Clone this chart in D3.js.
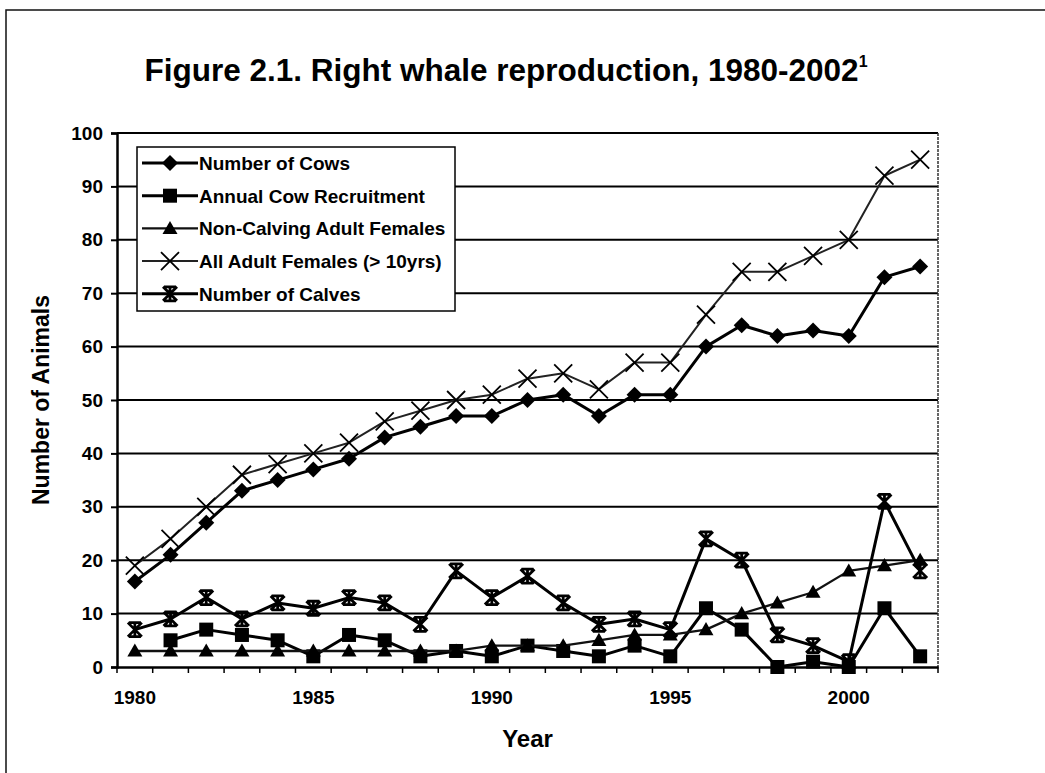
<!DOCTYPE html>
<html>
<head>
<meta charset="utf-8">
<script src="https://cdn.jsdelivr.net/npm/d3@7/dist/d3.min.js"></script>
<style>
  html, body { margin: 0; padding: 0; background: #fff; }
  svg { display: block; }
  text { font-family: "Liberation Sans", Arial, sans-serif; fill: #000; }
</style>
</head>
<body>
<svg id="chart" width="1045" height="773"></svg>
<script>
// ---- Data ----
const years = [1980,1981,1982,1983,1984,1985,1986,1987,1988,1989,1990,1991,1992,1993,1994,1995,1996,1997,1998,1999,2000,2001,2002];
const numberOfCows      = [16,21,27,33,35,37,39,43,45,47,47,50,51,47,51,51,60,64,62,63,62,73,75];
const annualRecruitment = [null,5,7,6,5,2,6,5,2,3,2,4,3,2,4,2,11,7,0,1,0,11,2];
const nonCalvingFemales = [3,3,3,3,3,3,3,3,3,3,4,4,4,5,6,6,7,10,12,14,18,19,20];
const allAdultFemales   = [19,24,30,36,38,40,42,46,48,50,51,54,55,52,57,57,66,74,74,77,80,92,95];
const numberOfCalves    = [7,9,13,9,12,11,13,12,8,18,13,17,12,8,9,7,24,20,6,4,1,31,18];
const yTicks = [0,10,20,30,40,50,60,70,80,90,100];
const xTickLabels = [1980,1985,1990,1995,2000];
const seriesNames = ["Number of Cows","Annual Cow Recruitment","Non-Calving Adult Females","All Adult Females (> 10yrs)","Number of Calves"];

const series = [
  {name: seriesNames[0], values: numberOfCows,      marker: "diamond",  width: 3,   color: "#000"},
  {name: seriesNames[1], values: annualRecruitment, marker: "square",   width: 3,   color: "#000"},
  {name: seriesNames[2], values: nonCalvingFemales, marker: "triangle", width: 2.3, color: "#111"},
  {name: seriesNames[3], values: allAdultFemales,   marker: "x",        width: 2,   color: "#222"},
  {name: seriesNames[4], values: numberOfCalves,    marker: "star",     width: 3,   color: "#000"}
];

// ---- Layout ----
const svg = d3.select("#chart");
const plot = {left: 117, right: 938, top: 133, bottom: 667};

const x = d3.scaleBand().domain(years).range([plot.left, plot.right]).paddingInner(0).paddingOuter(0);
const y = d3.scaleLinear().domain([0, 100]).range([plot.bottom, plot.top]);
const cx = d => x(d) + x.bandwidth() / 2;

// outer chart border (extends past the right/bottom edges)
svg.append("rect").attr("x", 6).attr("y", 10).attr("width", 1100).attr("height", 800)
  .attr("fill", "none").attr("stroke", "#111").attr("stroke-width", 1.5);

// title
const title = svg.append("text").attr("x", 506).attr("y", 81).attr("text-anchor", "middle")
  .attr("font-size", 31.5).attr("font-weight", "bold");
title.append("tspan").text("Figure 2.1. Right whale reproduction, 1980-2002");
title.append("tspan").attr("font-size", 16).attr("dy", -14).text("1");

// gridlines
svg.append("g").selectAll("line").data(yTicks.filter(t => t > 0)).join("line")
  .attr("x1", plot.left).attr("x2", plot.right)
  .attr("y1", d => y(d)).attr("y2", d => y(d))
  .attr("stroke", "#000").attr("stroke-width", 2);

// plot right border
svg.append("line").attr("x1", plot.right).attr("x2", plot.right)
  .attr("y1", plot.top).attr("y2", plot.bottom)
  .attr("stroke", "#333").attr("stroke-width", 1.5).attr("stroke-dasharray", "3,1");

// y axis
const yAxis = d3.axisLeft(y).tickValues(yTicks).tickSize(6).tickPadding(8);
const gy = svg.append("g").attr("transform", `translate(${plot.left},0)`).call(yAxis);
gy.select(".domain").attr("stroke", "#000").attr("stroke-width", 2.5);
gy.selectAll(".tick line").attr("stroke", "#000").attr("stroke-width", 2);
gy.selectAll(".tick text").attr("font-size", 19).attr("font-weight", "bold")
  .attr("font-family", "Liberation Sans, Arial, sans-serif").attr("fill", "#000");

// x axis: labels at category centres, ticks between categories
const xAxis = d3.axisBottom(x).tickValues(xTickLabels).tickSize(0).tickPadding(24);
const gx = svg.append("g").attr("transform", `translate(0,${plot.bottom})`).call(xAxis);
gx.select(".domain").attr("stroke", "#000").attr("stroke-width", 2.5);
gx.selectAll(".tick text").attr("font-size", 19).attr("font-weight", "bold")
  .attr("font-family", "Liberation Sans, Arial, sans-serif").attr("fill", "#000");
const boundaries = years.map(d => x(d)).concat([x(years[years.length - 1]) + x.bandwidth()]);
gx.append("g").selectAll("line").data(boundaries).join("line")
  .attr("x1", d => d).attr("x2", d => d).attr("y1", 0).attr("y2", 6)
  .attr("stroke", "#000").attr("stroke-width", 1.5);

// axis titles
svg.append("text").attr("x", cx(1991)).attr("y", 747).attr("text-anchor", "middle")
  .attr("font-size", 24).attr("font-weight", "bold").text("Year");
svg.append("text").attr("transform", `translate(49,${(plot.top + plot.bottom) / 2}) rotate(-90)`)
  .attr("text-anchor", "middle").attr("font-size", 23).attr("font-weight", "bold").text("Number of Animals");

// marker drawing
function drawMarker(g, type, px, py) {
  if (type === "diamond") {
    const s = 8;
    g.append("path").attr("d", `M${px},${py - s}L${px + s},${py}L${px},${py + s}L${px - s},${py}Z`).attr("fill", "#000");
  } else if (type === "square") {
    const s = 7;
    g.append("rect").attr("x", px - s).attr("y", py - s).attr("width", 2 * s).attr("height", 2 * s).attr("fill", "#000");
  } else if (type === "triangle") {
    const s = 7.5;
    g.append("path").attr("d", `M${px},${py - s}L${px + s},${py + s * 0.75}L${px - s},${py + s * 0.75}Z`).attr("fill", "#000");
  } else if (type === "x") {
    const s = 9;
    g.append("path").attr("d", `M${px - s},${py - s}L${px + s},${py + s}M${px - s},${py + s}L${px + s},${py - s}`)
      .attr("stroke", "#000").attr("stroke-width", 1.8).attr("fill", "none");
  } else if (type === "star") {
    const s = 7;
    g.append("path").attr("d", `M${px - s},${py - s}L${px + s},${py + s}M${px - s},${py + s}L${px + s},${py - s}M${px},${py - s}L${px},${py + s}M${px - s + 1},${py - s}L${px + s - 1},${py - s}M${px - s + 1},${py + s}L${px + s - 1},${py + s}`)
      .attr("stroke", "#000").attr("stroke-width", 2.8).attr("fill", "none");
  }
}

// series
const line = d3.line().defined(d => d.v != null).x(d => cx(d.year)).y(d => y(d.v));
series.forEach(s => {
  const pts = years.map((yr, i) => ({year: yr, v: s.values[i]}));
  const g = svg.append("g");
  g.append("path").datum(pts).attr("d", line).attr("fill", "none")
    .attr("stroke", s.color).attr("stroke-width", s.width).attr("stroke-linejoin", "round");
  pts.filter(p => p.v != null).forEach(p => drawMarker(g, s.marker, cx(p.year), y(p.v)));
});

// legend
const lg = svg.append("g");
lg.append("rect").attr("x", 137).attr("y", 147).attr("width", 318).attr("height", 164)
  .attr("fill", "#fff").attr("stroke", "#000").attr("stroke-width", 1.5);
series.forEach((s, i) => {
  const ly = 163 + i * 32.7;
  lg.append("line").attr("x1", 142).attr("x2", 198).attr("y1", ly).attr("y2", ly)
    .attr("stroke", s.color).attr("stroke-width", s.width);
  drawMarker(lg, s.marker, 170, ly);
  lg.append("text").attr("x", 199).attr("y", ly + 7).attr("font-size", 19).attr("font-weight", "bold").text(s.name);
});
</script>
</body>
</html>
